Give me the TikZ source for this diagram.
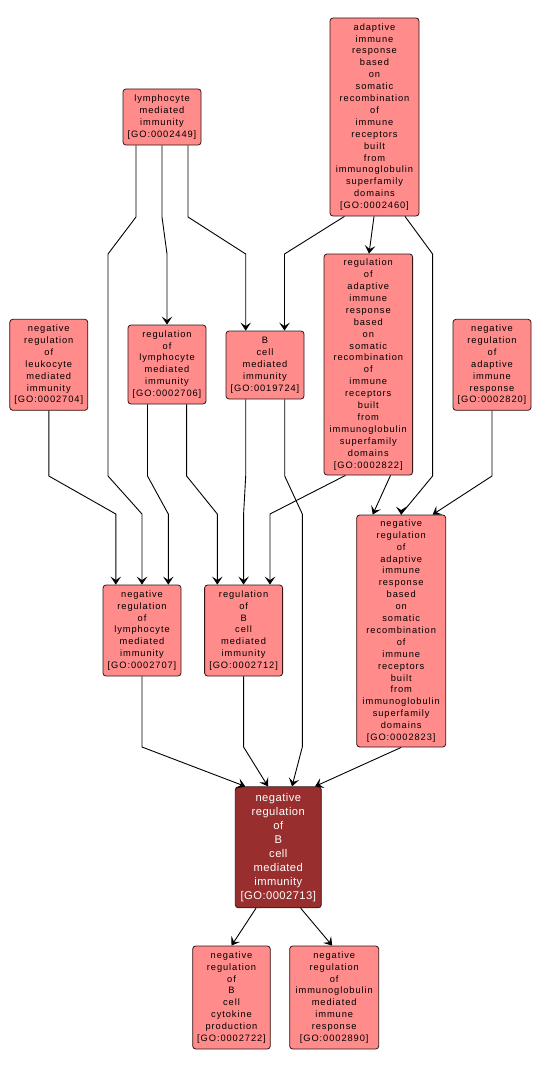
\documentclass[tikz,border=0pt]{standalone}
\usepackage{fontspec}
\setmainfont{Liberation Sans}
\newfontfamily\lblfont[LetterSpace=10]{Liberation Sans}
\newfontfamily\mainlblfont[LetterSpace=4]{Liberation Sans}
\usetikzlibrary{arrows.meta}
\definecolor{goFill}{RGB}{255,139,139}
\definecolor{goMain}{RGB}{152,46,46}
\definecolor{goBorder}{RGB}{50,20,20}
\begin{document}
\begin{tikzpicture}[x=1pt,y=-1pt,
  term/.style={draw=goBorder, fill=goFill, rounded corners=3pt, line width=0.8pt, inner sep=0pt, align=center, font=\lblfont\fontsize{9.3}{11.9}\selectfont, text=black},
  mainterm/.style={term, fill=goMain, text=white, font=\mainlblfont\fontsize{11.2}{14}\selectfont},
  edge/.style={draw=black, line width=0.9pt, -{Stealth[length=8pt,width=10.5pt,inset=3.5pt]}}]
\useasboundingbox (0,0) rectangle (539,1070);
\fill[white] (0,0) rectangle (539,1070);

\node[term, minimum width=78pt, minimum height=56pt] (n2449) at (162,117) {lymphocyte\\mediated\\immunity\\{[GO:0002449]}};
\node[term, minimum width=89pt, minimum height=198pt] (n2460) at (374.5,117) {adaptive\\immune\\response\\based\\on\\somatic\\recombination\\of\\immune\\receptors\\built\\from\\immunoglobulin\\superfamily\\domains\\{[GO:0002460]}};
\node[term, minimum width=78pt, minimum height=91pt] (n2704) at (48.8,364.8) {negative\\regulation\\of\\leukocyte\\mediated\\immunity\\{[GO:0002704]}};
\node[term, minimum width=78pt, minimum height=79pt] (n2706) at (167,364.5) {regulation\\of\\lymphocyte\\mediated\\immunity\\{[GO:0002706]}};
\node[term, minimum width=78pt, minimum height=68pt] (n19724) at (265,365) {B\\cell\\mediated\\immunity\\{[GO:0019724]}};
\node[term, minimum width=88.6pt, minimum height=221pt] (n2822) at (368.3,364.5) {regulation\\of\\adaptive\\immune\\response\\based\\on\\somatic\\recombination\\of\\immune\\receptors\\built\\from\\immunoglobulin\\superfamily\\domains\\{[GO:0002822]}};
\node[term, minimum width=78pt, minimum height=91pt] (n2820) at (492,364.8) {negative\\regulation\\of\\adaptive\\immune\\response\\{[GO:0002820]}};
\node[term, minimum width=78pt, minimum height=91pt] (n2707) at (142,630.5) {negative\\regulation\\of\\lymphocyte\\mediated\\immunity\\{[GO:0002707]}};
\node[term, minimum width=78pt, minimum height=91pt] (n2712) at (243.6,630.5) {regulation\\of\\B\\cell\\mediated\\immunity\\{[GO:0002712]}};
\node[term, minimum width=89pt, minimum height=232pt] (n2823) at (401.2,631) {negative\\regulation\\of\\adaptive\\immune\\response\\based\\on\\somatic\\recombination\\of\\immune\\receptors\\built\\from\\immunoglobulin\\superfamily\\domains\\{[GO:0002823]}};
\node[mainterm, minimum width=86pt, minimum height=121pt] (n2713) at (278.3,847.3) {negative\\regulation\\of\\B\\cell\\mediated\\immunity\\{[GO:0002713]}};
\node[term, minimum width=77.6pt, minimum height=103pt] (n2722) at (231.5,997.5) {negative\\regulation\\of\\B\\cell\\cytokine\\production\\{[GO:0002722]}};
\node[term, minimum width=89pt, minimum height=103pt] (n2890) at (334.2,997.5) {negative\\regulation\\of\\immunoglobulin\\mediated\\immune\\response\\{[GO:0002890]}};

% edges
\draw[edge] ([xshift=-26pt]n2449.south) -- (136,217) -- (108,254) -- (108,476) -- (142,514) -- (n2707.north);
\draw[edge] (n2449.south) -- (162,217) -- (167,254) -- (n2706.north);
\draw[edge] ([xshift=26pt]n2449.south) -- (188,217) -- (245.7,254) -- ([xshift=-19.3pt]n19724.north);
\draw[edge] ([xshift=-30pt]n2460.south) -- (284.5,254) -- ([xshift=19.5pt]n19724.north);
\draw[edge] ([xshift=-0.5pt]n2460.south) -- ([xshift=0.7pt]n2822.north);
\draw[edge] ([xshift=30.5pt]n2460.south) -- (432.6,254) -- (432.6,476) -- (401.2,514) -- (n2823.north);
\draw[edge] (n2704.south) -- (48.8,476) -- (115.8,514) -- ([xshift=-26.2pt]n2707.north);
\draw[edge] ([xshift=-19.5pt]n2706.south) -- (147.5,476) -- (168.3,514) -- ([xshift=26.3pt]n2707.north);
\draw[edge] ([xshift=19.6pt]n2706.south) -- (186.6,476) -- (217.3,514) -- ([xshift=-26.3pt]n2712.north);
\draw[edge] ([xshift=-19.3pt]n19724.south) -- (245.7,476) -- (243.6,514) -- (n2712.north);
\draw[edge] ([xshift=19.7pt]n19724.south) -- (284.7,476) -- (302.3,514) -- (302.3,747) -- ([xshift=13.7pt]n2713.north);
\draw[edge] ([xshift=-22.8pt]n2822.south) -- (270,514) -- ([xshift=26.4pt]n2712.north);
\draw[edge] ([xshift=22.2pt]n2822.south) -- ([xshift=-28.5pt]n2823.north);
\draw[edge] (n2820.south) -- (492,476) -- ([xshift=31.4pt]n2823.north);
\draw[edge] (n2707.south) -- (142,747) -- ([xshift=-33pt]n2713.north);
\draw[edge] (n2712.south) -- (243.6,747) -- ([xshift=-10.3pt]n2713.north);
\draw[edge] (n2823.south) -- ([xshift=36.7pt]n2713.north);
\draw[edge] ([xshift=-22.3pt]n2713.south) -- (n2722.north);
\draw[edge] ([xshift=22.4pt]n2713.south) -- ([xshift=-2pt]n2890.north);
\end{tikzpicture}
\end{document}
